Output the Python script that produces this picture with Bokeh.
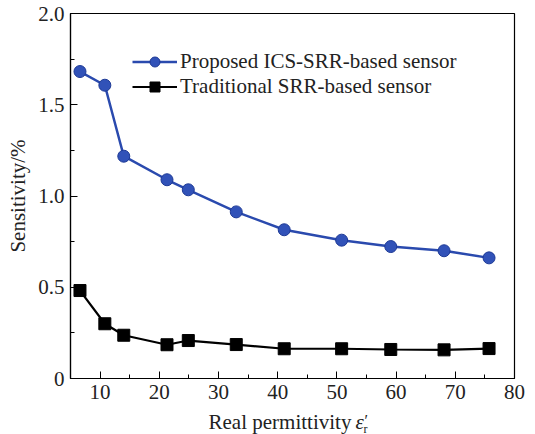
from bokeh.plotting import figure
from bokeh.layouts import column
from bokeh.models import (FixedTicker, CustomJSTickFormatter, Legend, LegendItem, Range1d)
from bokeh.core.properties import value
from bokeh.embed import file_html
from bokeh.resources import INLINE

# ---- data ----
permittivity = [6.6, 10.8, 14.0, 21.3, 24.9, 33.0, 41.1, 50.8, 59.1, 68.1, 75.7]
ics_srr = [1.682, 1.607, 1.218, 1.089, 1.034, 0.913, 0.815, 0.758, 0.723, 0.700, 0.661]
trad_srr = [0.482, 0.300, 0.237, 0.185, 0.208, 0.186, 0.163, 0.163, 0.159, 0.157, 0.164]

x_major = [10, 20, 30, 40, 50, 60, 70, 80]
x_minor = [5, 15, 25, 35, 45, 55, 65, 75]
y_major = [0, 0.5, 1.0, 1.5, 2.0]
y_minor = [0.25, 0.75, 1.25, 1.75]

FONT = "Liberation Serif"
BLUE = "#2a4aae"
TXT = "#222222"
X0, X1 = 5, 80

P_H = 408
p = figure(width=535, height=P_H, output_backend="svg", toolbar_location=None,
           x_range=Range1d(X0, X1), y_range=Range1d(0, 2.0),
           min_border_left=70, min_border_right=21, min_border_top=13, min_border_bottom=30)
p.grid.visible = False
p.background_fill_color = "white"
p.border_fill_color = "white"
p.outline_line_color = "black"
p.outline_line_width = 1.2

bl = p.line(permittivity, ics_srr, line_color=BLUE, line_width=2.5)
bs = p.scatter(permittivity, ics_srr, marker="circle", size=12, fill_color="#3152b8",
               line_color="#1e3a96", line_width=1)
kl = p.line(permittivity, trad_srr, line_color="black", line_width=2.2)
ks = p.scatter(permittivity, trad_srr, marker="square", size=12, fill_color="black",
               line_color="black")

legend = Legend(items=[LegendItem(label="Proposed ICS-SRR-based sensor", renderers=[bl, bs]),
                       LegendItem(label="Traditional SRR-based sensor", renderers=[kl, ks])],
                location=(62, 279), border_line_color=None, background_fill_alpha=0,
                padding=0, margin=0, spacing=0, glyph_width=45, glyph_height=25,
                label_height=25, label_standoff=3, label_text_font=FONT,
                label_text_font_size="21px", label_text_color=TXT)
p.add_layout(legend)

# x axis
xa = p.xaxis[0]
xa.ticker = FixedTicker(ticks=x_major, minor_ticks=x_minor)
xa.major_tick_in = 7
xa.major_tick_out = 0
xa.minor_tick_in = 4
xa.minor_tick_out = 0
xa.major_label_standoff = 6
xa.major_label_text_font = FONT
xa.major_label_text_font_size = "21px"
xa.major_label_text_color = TXT
xa.axis_line_color = "black"
xa.axis_line_width = 1.2

# y axis
ya = p.yaxis[0]
ya.ticker = FixedTicker(ticks=y_major, minor_ticks=y_minor)
ya.formatter = CustomJSTickFormatter(code="return tick == 0 ? '0' : tick.toFixed(1);")
ya.major_tick_in = 7
ya.major_tick_out = 0
ya.minor_tick_in = 4
ya.minor_tick_out = 0
ya.major_label_standoff = 6
ya.major_label_text_font = FONT
ya.major_label_text_font_size = "21px"
ya.major_label_text_color = TXT
ya.axis_line_color = "black"
ya.axis_line_width = 1.2
ya.axis_label = "Sensitivity/%"
ya.axis_label_text_font = FONT
ya.axis_label_text_font_size = "21px"
ya.axis_label_text_font_style = "normal"
ya.axis_label_text_color = TXT
ya.axis_label_standoff = 5

# x axis title strip; its frame lines up with the main frame (70..514 px)
Q_H = 434 - P_H
q = figure(width=535, height=Q_H, output_backend="svg", toolbar_location=None,
           x_range=p.x_range, y_range=Range1d(Q_H, 0),
           min_border=0, x_axis_location=None, y_axis_location=None)
q.grid.visible = False
q.outline_line_color = None
q.background_fill_color = "white"
q.border_fill_color = "white"

def px_x(px):
    return X0 + (px - 70) * (X1 - X0) / 444.0

def px_y(py):
    return py - P_H

q.text(x=[px_x(208)], y=[px_y(421)], text=["Real permittivity"], text_font=value(FONT),
       text_font_size="21px", text_color=TXT, text_align="left", text_baseline="alphabetic")
q.text(x=[px_x(355)], y=[px_y(421)], text=["ε"], text_font=value(FONT), text_font_style="italic",
       text_font_size="21px", text_color=TXT, text_align="left", text_baseline="alphabetic")
q.text(x=[px_x(364)], y=[px_y(419.5)], text=["′"], text_font=value(FONT),
       text_font_size="16px", text_color=TXT, text_align="left", text_baseline="alphabetic")
q.text(x=[px_x(363)], y=[px_y(428)], text=["r"], text_font=value(FONT),
       text_font_size="12px", text_color=TXT, text_align="left", text_baseline="alphabetic")

layout = column(p, q, spacing=0)
open("out.html", "w").write(file_html(layout, INLINE))
